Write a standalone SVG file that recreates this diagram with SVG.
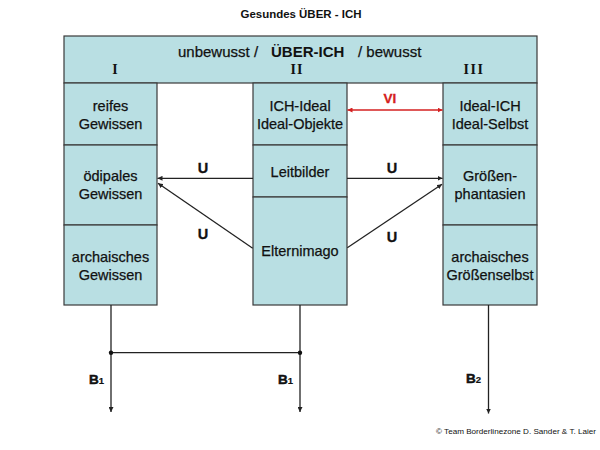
<svg xmlns="http://www.w3.org/2000/svg" width="600" height="450" viewBox="0 0 600 450">
<style>
.box{fill:#b9dfe3;stroke:#3a3a3a;stroke-width:1.2}
.t{font-family:"Liberation Sans",Arial,sans-serif;font-size:14.5px;fill:#111;stroke:#111;stroke-width:0.25;text-anchor:middle}
.b{font-family:"Liberation Sans",Arial,sans-serif;font-weight:bold;fill:#111}
.rn{font-family:"Liberation Serif","Times New Roman",serif;font-weight:bold;font-size:14px;fill:#111;text-anchor:middle}
.ln{stroke:#222;stroke-width:1.3;fill:none}
.red{stroke:#d42020;stroke-width:1.4;fill:none}
</style>
<defs>
<marker id="ah" markerUnits="userSpaceOnUse" markerWidth="6" markerHeight="5" refX="5" refY="2.5" orient="auto"><path d="M0,0 L5,2.5 L0,5 z" fill="#222"/></marker>
<marker id="ahr" markerUnits="userSpaceOnUse" markerWidth="6" markerHeight="5" refX="5" refY="2.5" orient="auto-start-reverse"><path d="M0,0 L5,2.5 L0,5 z" fill="#d42020"/></marker>
</defs>
<rect width="600" height="450" fill="#fff"/>
<text class="b" x="301" y="18" font-size="11" text-anchor="middle" textLength="121" lengthAdjust="spacingAndGlyphs">Gesundes ÜBER - ICH</text>

<g id="ueber-ich">
<rect class="box" x="64" y="36" width="473" height="47"/>
<text x="178" y="57" font-family="Liberation Sans,Arial,sans-serif" font-size="15" fill="#111" stroke="#111" stroke-width="0.25">unbewusst /</text>
<text class="b" x="271" y="57" font-size="15">ÜBER-ICH</text>
<text x="358" y="57" font-family="Liberation Sans,Arial,sans-serif" font-size="15" fill="#111" stroke="#111" stroke-width="0.25">/ bewusst</text>
<text class="rn" x="115" y="74">I</text>
<text class="rn" x="297" y="74" letter-spacing="1">II</text>
<text class="rn" x="474" y="74" letter-spacing="1.5">III</text>
</g>

<g id="reifes-gewissen">
<rect class="box" x="64" y="83" width="93" height="62"/>
<text class="t" x="110.5" y="111">reifes</text>
<text class="t" x="110.5" y="128.5">Gewissen</text>
</g>
<g id="oedipales-gewissen">
<rect class="box" x="64" y="145" width="93" height="80"/>
<text class="t" x="110.5" y="180.5">ödipales</text>
<text class="t" x="110.5" y="198.5">Gewissen</text>
</g>
<g id="archaisches-gewissen">
<rect class="box" x="64" y="225" width="93" height="80"/>
<text class="t" x="110.5" y="262">archaisches</text>
<text class="t" x="110.5" y="279.5">Gewissen</text>
</g>

<g id="ich-ideal">
<rect class="box" x="253" y="83" width="94" height="62"/>
<text class="t" x="300" y="111">ICH-Ideal</text>
<text class="t" x="300" y="128.5">Ideal-Objekte</text>
</g>
<g id="leitbilder">
<rect class="box" x="253" y="145" width="94" height="52"/>
<text class="t" x="300" y="176.5">Leitbilder</text>
</g>
<g id="elternimago">
<rect class="box" x="253" y="197" width="94" height="108"/>
<text class="t" x="300" y="255.5">Elternimago</text>
</g>

<g id="ideal-ich">
<rect class="box" x="443" y="83" width="94" height="62"/>
<text class="t" x="490" y="111">Ideal-ICH</text>
<text class="t" x="490" y="128.5">Ideal-Selbst</text>
</g>
<g id="groessenphantasien">
<rect class="box" x="443" y="145" width="94" height="80"/>
<text class="t" x="490" y="180.5">Größen-</text>
<text class="t" x="490" y="198.5">phantasien</text>
</g>
<g id="archaisches-groessenselbst">
<rect class="box" x="443" y="225" width="94" height="80"/>
<text class="t" x="490" y="262">archaisches</text>
<text class="t" x="490" y="279.5">Größenselbst</text>
</g>

<g id="connectors">
<line class="red" x1="347.5" y1="110" x2="442.5" y2="110" marker-start="url(#ahr)" marker-end="url(#ahr)"/>
<line class="ln" x1="253" y1="178.3" x2="157.5" y2="178.3" marker-end="url(#ah)"/>
<line class="ln" x1="347" y1="178.3" x2="442.5" y2="178.3" marker-end="url(#ah)"/>
<line class="ln" x1="252.7" y1="248.3" x2="158" y2="183.3" marker-end="url(#ah)"/>
<line class="ln" x1="347.3" y1="247.7" x2="442" y2="184.3" marker-end="url(#ah)"/>
<line class="ln" x1="111" y1="305" x2="111" y2="412" marker-end="url(#ah)"/>
<line class="ln" x1="300" y1="305" x2="300" y2="412" marker-end="url(#ah)"/>
<line class="ln" x1="488.5" y1="305" x2="488.5" y2="413.5" marker-end="url(#ah)"/>
<line class="ln" x1="111" y1="352.7" x2="300" y2="352.7"/>
<circle cx="111" cy="352.7" r="2.2" fill="#111"/>
<circle cx="300" cy="352.7" r="2.2" fill="#111"/>
</g>

<g id="labels">
<text x="390" y="103" font-family="Liberation Sans,Arial,sans-serif" font-weight="bold" font-size="13.5" fill="#d42020" stroke="#d42020" stroke-width="0.3" text-anchor="middle">VI</text>
<text class="b" x="203" y="173" font-size="14.5" text-anchor="middle" stroke="#111" stroke-width="0.3">U</text>
<text class="b" x="203" y="239" font-size="14.5" text-anchor="middle" stroke="#111" stroke-width="0.3">U</text>
<text class="b" x="392" y="173" font-size="14.5" text-anchor="middle" stroke="#111" stroke-width="0.3">U</text>
<text class="b" x="392" y="241.5" font-size="14.5" text-anchor="middle" stroke="#111" stroke-width="0.3">U</text>
<text class="b" x="89" y="384" font-size="13.5" stroke="#111" stroke-width="0.5">B<tspan font-size="9.5" stroke-width="0.2">1</tspan></text>
<text class="b" x="278" y="384" font-size="13.5" stroke="#111" stroke-width="0.5">B<tspan font-size="9.5" stroke-width="0.2">1</tspan></text>
<text class="b" x="466" y="383" font-size="13.5" stroke="#111" stroke-width="0.5">B<tspan font-size="9.5" stroke-width="0.2">2</tspan></text>
<text x="436" y="434" font-family="Liberation Sans,Arial,sans-serif" font-size="8" fill="#111" textLength="160" lengthAdjust="spacingAndGlyphs">© Team Borderlinezone  D. Sander &amp; T. Laier</text>
</g>
</svg>
